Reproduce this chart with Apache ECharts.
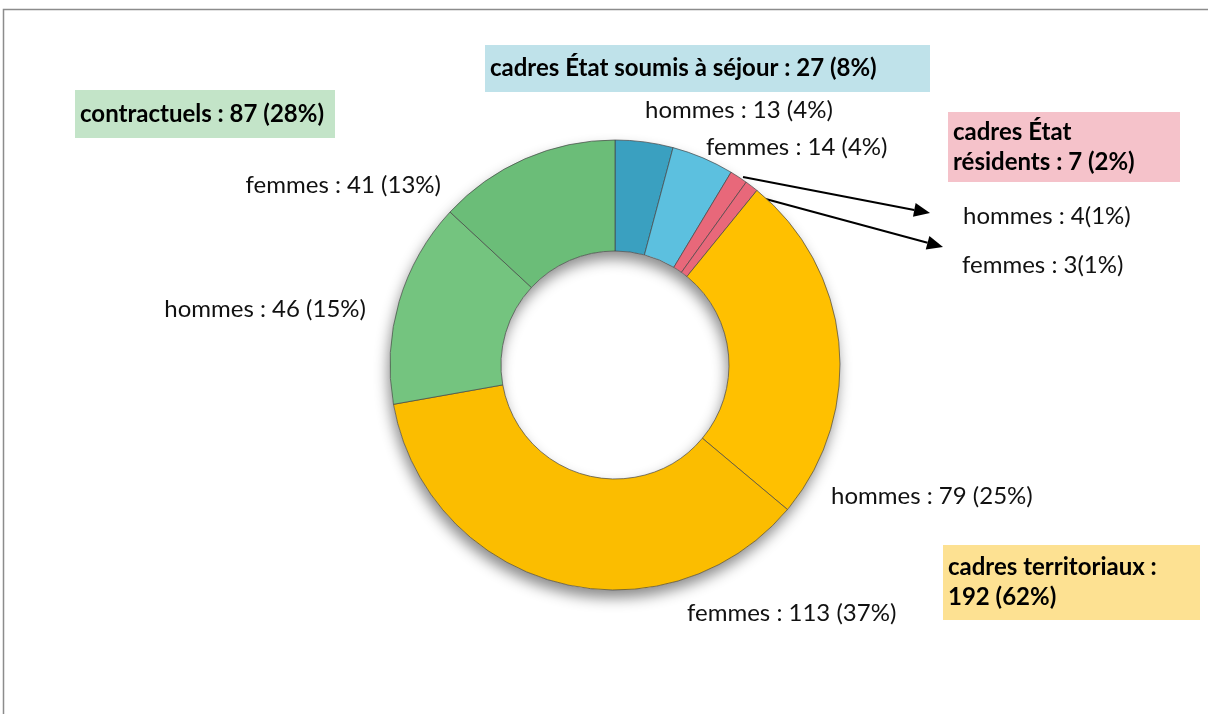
<!DOCTYPE html>
<html>
<head>
<meta charset="utf-8">
<style>
  html, body { margin: 0; padding: 0; background: #fff; }
  #main { width: 1208px; height: 714px; }
</style>
<script src="https://cdn.jsdelivr.net/npm/echarts@6/dist/echarts.min.js"></script>
</head>
<body>
<div id="main"></div>
<script>
// données du graphique
const sliceNames = ["hommes", "femmes", "hommes", "femmes", "hommes", "femmes", "hommes", "femmes"];
const sliceValues = [13, 14, 4, 3, 79, 113, 46, 41];
const slicePct = ["4%", "4%", "1%", "1%", "25%", "37%", "15%", "13%"];
const sliceColors = ["#3aa0c0", "#5cc0df", "#e8687a", "#e8687a", "#ffc000", "#fbbd00", "#74c47f", "#6bbd78"];

const groupNames = ["cadres État soumis à séjour", "cadres État\nrésidents", "cadres territoriaux :\n", "contractuels"];
const groupValues = [27, 7, 192, 87];
const groupPct = ["8%", "2%", "62%", "28%"];

// position des étiquettes (x, y, alignement)
const labelPos = [
  [645, 110, "left"], [706, 147, "left"], [963, 216, "left"], [962, 265, "left"],
  [831, 496, "left"], [687, 613, "left"], [366, 309, "right"], [441, 185, "right"]
];

const myChart = echarts.init(document.getElementById("main"));

const fontName = "Lato";

function groupText(i) {
  let sep = groupNames[i].endsWith("\n") ? "" : " : ";
  return groupNames[i] + sep + groupValues[i] + " (" + groupPct[i] + ")";
}

// boîtes des catégories
const boxes = [
  { x: 485, y: 45, w: 445, h: 47, color: "#bfe2ea", i: 0 },
  { x: 948, y: 112, w: 232, h: 70, color: "#f5c2ca", i: 1 },
  { x: 943, y: 545, w: 257, h: 75, color: "#fde192", i: 2 },
  { x: 75, y: 90, w: 260, h: 48, color: "#c3e4c8", i: 3 }
];

let graphics = [
  // cadre
  { type: "polyline", silent: true, shape: { points: [[1210, 9.5], [3.5, 9.5], [3.5, 716]] },
    style: { stroke: "#8c8c8c", lineWidth: 1.5, fill: null } },
  // ombre de l'anneau
  { type: "ring", silent: true, z: -1, shape: { cx: 615, cy: 365, r: 225, r0: 114 },
    style: { fill: "#fff", shadowBlur: 14, shadowOffsetX: -2, shadowOffsetY: 8, shadowColor: "rgba(0,0,0,0.45)" } }
];

boxes.forEach(b => {
  graphics.push({ type: "rect", silent: true, shape: { x: b.x, y: b.y, width: b.w, height: b.h },
    style: { fill: b.color } });
  graphics.push({ type: "text", silent: true, x: b.x + 5, y: b.y + b.h / 2,
    style: { text: groupText(b.i), fill: "#000", font: "bold 24px " + fontName,
      verticalAlign: "middle", align: "left", lineHeight: 30 } });
});

// flèches vers les petites parts
const arrows = [
  [[743, 177], [930, 213]],
  [[762, 198], [943, 247]]
];
arrows.forEach(a => {
  let p0 = a[0], p1 = a[1];
  let ang = Math.atan2(p1[1] - p0[1], p1[0] - p0[0]);
  let len = 16, wid = 7;
  let bx = p1[0] - len * Math.cos(ang), by = p1[1] - len * Math.sin(ang);
  graphics.push({ type: "line", silent: true, shape: { x1: p0[0], y1: p0[1], x2: bx, y2: by },
    style: { stroke: "#000", lineWidth: 2 } });
  graphics.push({ type: "polygon", silent: true, shape: { points: [
      [p1[0], p1[1]],
      [bx + wid * Math.sin(ang), by - wid * Math.cos(ang)],
      [bx - wid * Math.sin(ang), by + wid * Math.cos(ang)]
    ] }, style: { fill: "#000" } });
});

const pieData = sliceValues.map((v, i) => ({
  value: v,
  name: sliceNames[i],
  itemStyle: { color: sliceColors[i] }
}));

const option = {
  backgroundColor: "#fff",
  animation: false,
  graphic: graphics,
  series: [
    {
      type: "pie",
      center: [615, 365],
      radius: [114, 225],
      startAngle: 90,
      clockwise: true,
      avoidLabelOverlap: false,
      itemStyle: { borderColor: "rgba(70,70,70,0.7)", borderWidth: 1 },
      label: {
        show: true,
        color: "#111",
        fontFamily: fontName,
        fontSize: 24,
        formatter: function(p) {
          let i = p.dataIndex;
          let gap = (i === 2 || i === 3) ? "" : " ";
          return sliceNames[i] + " : " + sliceValues[i] + gap + "(" + slicePct[i] + ")";
        }
      },
      labelLine: { show: false },
      labelLayout: function(params) {
        let lp = labelPos[params.dataIndex];
        return { x: lp[0], y: lp[1], align: lp[2], verticalAlign: "middle" };
      },
      data: pieData
    }
  ]
};

myChart.setOption(option);
</script>
</body>
</html>
